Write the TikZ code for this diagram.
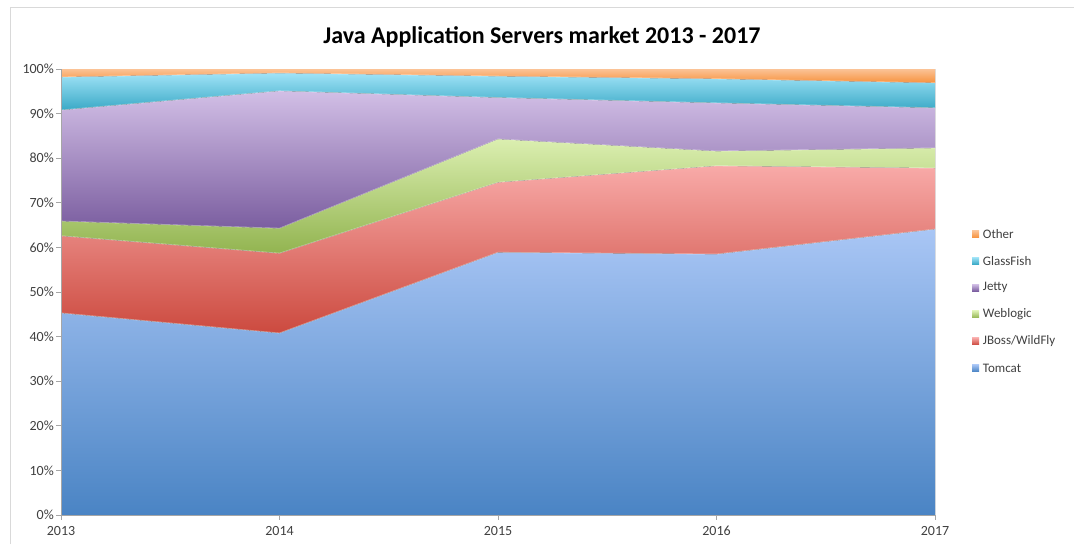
\documentclass[tikz,border=0pt]{standalone}
\usepackage{fontspec}
\setmainfont{Carlito}
\usetikzlibrary{positioning}
\definecolor{tomcatT}{HTML}{A9C6F5}
\definecolor{tomcatB}{HTML}{4A84C4}
\definecolor{jbossT}{HTML}{F8AAA8}
\definecolor{jbossB}{HTML}{CC4A3F}
\definecolor{weblogicT}{HTML}{DBEFB0}
\definecolor{weblogicB}{HTML}{92B450}
\definecolor{jettyT}{HTML}{D2BFE6}
\definecolor{jettyB}{HTML}{7B5EA0}
\definecolor{glassfishT}{HTML}{A0E3F7}
\definecolor{glassfishB}{HTML}{3AA9C6}
\definecolor{otherT}{HTML}{FBC396}
\definecolor{otherB}{HTML}{F7923E}
\definecolor{axisgray}{HTML}{A6A6A6}
\definecolor{labgray}{HTML}{404040}
\tikzset{%
  tomcat/.style    = {top color=tomcatT, bottom color=tomcatB},
  jboss/.style     = {top color=jbossT, bottom color=jbossB},
  weblogic/.style  = {top color=weblogicT, bottom color=weblogicB},
  jetty/.style     = {top color=jettyT, bottom color=jettyB},
  glassfish/.style = {top color=glassfishT, bottom color=glassfishB},
  other/.style     = {top color=otherT, bottom color=otherB},
  seam/.style      = {draw=white, draw opacity=0.45, line width=0.8pt},
  frame/.style     = {draw=black!15, line width=1pt},
  axis/.style      = {draw=axisgray, line width=0.8pt},
  ticklab/.style   = {font=\fontsize{14}{16}\selectfont, text=labgray, inner sep=0pt},
  legbox/.style    = {rectangle, minimum size=7pt, inner sep=0pt},
  legtext/.style   = {font=\fontsize{13}{15}\selectfont, text=labgray, inner sep=0pt},
}
\begin{document}
\begin{tikzpicture}[x=1pt, y=1pt]
  \useasboundingbox (0,0) rectangle (1074,-544);
  \draw[frame] (10,-544) -- (10,-7) -- (1074,-7);

  \node (title) [font=\fontsize{24}{28}\selectfont\bfseries] at (542,-37)
        {Java Application Servers market 2013 - 2017};

  \begin{scope}[shift={(61,-515)}, x=218.5pt, y=4.46pt]
    % stacked areas, bottom to top
    \fill[tomcat]    (0,0) -- (0,45.3) -- (1,40.8) -- (2,58.9) -- (3,58.5) -- (4,64.1)
                     -- (4,0) -- cycle;
    \fill[jboss]     (0,45.3) -- (1,40.8) -- (2,58.9) -- (3,58.5) -- (4,64.1)
                     -- (4,77.8) -- (3,78.3) -- (2,74.6) -- (1,58.7) -- (0,62.6) -- cycle;
    \fill[weblogic]  (0,62.6) -- (1,58.7) -- (2,74.6) -- (3,78.3) -- (4,77.8)
                     -- (4,82.3) -- (3,81.6) -- (2,84.3) -- (1,64.3) -- (0,65.9) -- cycle;
    \fill[jetty]     (0,65.9) -- (1,64.3) -- (2,84.3) -- (3,81.6) -- (4,82.3)
                     -- (4,91.3) -- (3,92.4) -- (2,93.6) -- (1,95.1) -- (0,90.8) -- cycle;
    \fill[glassfish] (0,90.8) -- (1,95.1) -- (2,93.6) -- (3,92.4) -- (4,91.3)
                     -- (4,96.9) -- (3,97.8) -- (2,98.4) -- (1,99.1) -- (0,98.2) -- cycle;
    \fill[other]     (0,98.2) -- (1,99.1) -- (2,98.4) -- (3,97.8) -- (4,96.9)
                     -- (4,100) -- (0,100) -- cycle;

    % light edges between the areas
    \draw[seam] (0,45.3) -- (1,40.8) -- (2,58.9) -- (3,58.5) -- (4,64.1);
    \draw[seam] (0,62.6) -- (1,58.7) -- (2,74.6) -- (3,78.3) -- (4,77.8);
    \draw[seam] (0,65.9) -- (1,64.3) -- (2,84.3) -- (3,81.6) -- (4,82.3);
    \draw[seam] (0,90.8) -- (1,95.1) -- (2,93.6) -- (3,92.4) -- (4,91.3);
    \draw[seam] (0,98.2) -- (1,99.1) -- (2,98.4) -- (3,97.8) -- (4,96.9);

    % axes
    \draw[axis] (0,100) -- (0,0) -- (4,0);
    \foreach \p in {0,10,...,100} {
      \draw[axis] (0,\p) -- ++(-5pt,0);
      \node (y\p) [ticklab, anchor=east] at ([xshift=-7pt]0,\p) {\p\%};
    }
    \foreach \yr [count=\i from 0] in {2013,2014,2015,2016,2017} {
      \draw[axis] (\i,0) -- ++(0,-5pt);
      \node (x\yr) [ticklab] at ([yshift=-16pt]\i,0) {\yr};
    }
  \end{scope}

  % legend
  \foreach \st/\nm [count=\i from 0] in {other/Other, glassfish/GlassFish, jetty/Jetty,
                                         weblogic/Weblogic, jboss/{JBoss/WildFly}, tomcat/Tomcat} {
    \node (leg\st) [legbox, \st] at (975.5,{-234-26.8*\i}) {};
    \node (lab\st) [legtext, right=3.5pt of leg\st] {\nm};
  }
\end{tikzpicture}
\end{document}
